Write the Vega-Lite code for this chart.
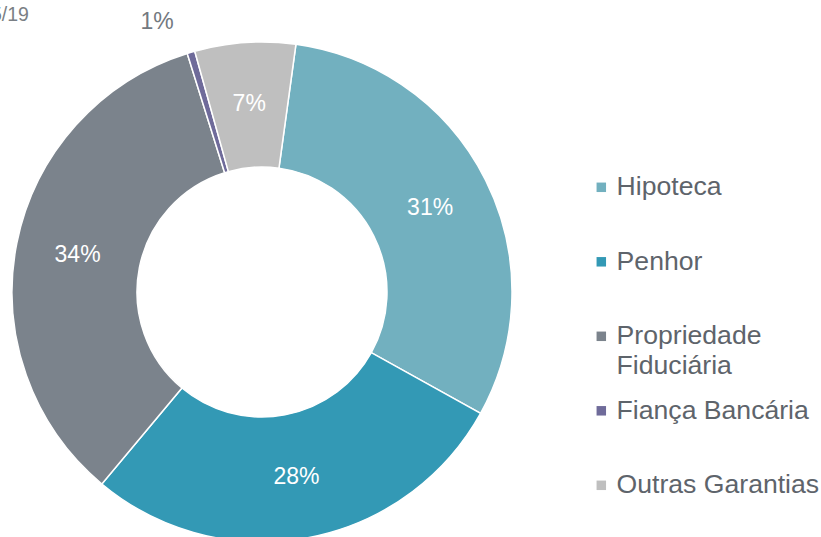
{
  "$schema": "https://vega.github.io/schema/vega-lite/v6.json",
  "width": 524,
  "height": 490,
  "autosize": {"type": "none"},
  "padding": {"left": 0, "top": 47, "right": 297, "bottom": 0},
  "background": "white",
  "title": {"text": "5/19", "anchor": "start", "frame": "group", "dx": -9, "dy": 26, "offset": 0, "font": "Liberation Sans", "fontSize": 19.5, "fontWeight": "normal", "color": "#7a7f85"},
  "config": {"view": {"stroke": null}, "font": "Liberation Sans", "style": {"guide-label": {"lineHeight": 30}}},
  "data": {"values": [
    {"categoria": "Hipoteca", "valor": 30.9, "rotulo": "31%", "ordem": 1},
    {"categoria": "Penhor", "valor": 28.0, "rotulo": "28%", "ordem": 2},
    {"categoria": "Propriedade Fiduciária", "valor": 34.1, "rotulo": "34%", "ordem": 3},
    {"categoria": "Fiança Bancária", "valor": 0.5, "rotulo": "1%", "ordem": 4},
    {"categoria": "Outras Garantias", "valor": 6.5, "rotulo": "7%", "ordem": 5}
  ]},
  "encoding": {
    "theta": {"field": "valor", "type": "quantitative", "stack": true, "scale": {"range": [0.1361, 6.4193]}},
    "order": {"field": "ordem", "type": "quantitative"}
  },
  "layer": [
    {
      "mark": {"type": "arc", "radius": 250, "radius2": 125, "stroke": "white", "strokeWidth": 1.5},
      "encoding": {
        "color": {
          "field": "categoria", "type": "nominal",
          "scale": {
            "domain": ["Hipoteca", "Penhor", "Propriedade Fiduciária", "Fiança Bancária", "Outras Garantias"],
            "range": ["#72b0bf", "#3399b5", "#7b838c", "#6f6b9a", "#bfbfbf"]
          },
          "legend": {
            "title": null,
            "orient": "none",
            "legendX": 588,
            "legendY": 127,
            "gridAlign": "all",
            "symbolType": "square",
            "symbolSize": 90,
            "symbolStrokeWidth": 0,
            "labelFontSize": 26.6,
            "labelFont": "Liberation Sans",
            "labelColor": "#5e646b",
            "labelOffset": 2,
            "labelLimit": 400,
            "rowPadding": 17.5,
            "labelExpr": "datum.label == 'Propriedade Fiduciária' ? ['Propriedade', 'Fiduciária'] : datum.label"
          }
        }
      }
    },
    {
      "mark": {"type": "text", "radius": 188, "fontSize": 23, "font": "Liberation Sans"},
      "encoding": {
        "text": {"field": "rotulo"},
        "color": {"condition": {"test": "datum.valor >= 2", "value": "white"}, "value": "transparent"}
      }
    },
    {
      "mark": {"type": "text", "radius": 285, "dx": -24, "dy": 3, "fontSize": 23, "font": "Liberation Sans"},
      "encoding": {
        "text": {"field": "rotulo"},
        "color": {"condition": {"test": "datum.valor < 2", "value": "#73797f"}, "value": "transparent"}
      }
    }
  ]
}
